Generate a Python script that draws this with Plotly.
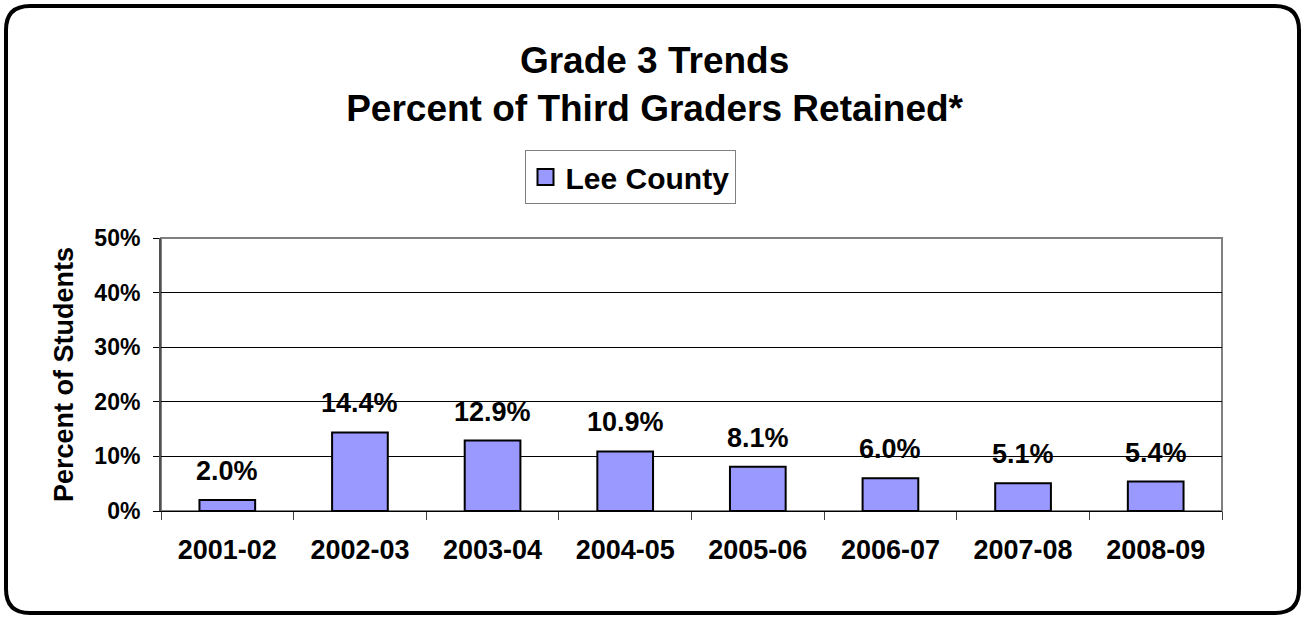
import plotly.graph_objects as go

# ---- data ----
school_years = ["2001-02", "2002-03", "2003-04", "2004-05", "2005-06", "2006-07", "2007-08", "2008-09"]
lee_county_retained = [0.020, 0.144, 0.129, 0.109, 0.081, 0.060, 0.051, 0.054]
series_name = "Lee County"
y_tick_values = [0, 0.1, 0.2, 0.3, 0.4, 0.5]
y_tick_labels = ["0%", "10%", "20%", "30%", "40%", "50%"]

# ---- layout constants ----
W, H = 1304, 617
ML, MR, MT, MB = 161, 82, 238, 106
PW, PH = W - ML - MR, H - MT - MB
FONT = "Liberation Sans, Arial, sans-serif"
BAR_COLOR = "#9999FF"


def px_x(px):
    return (px - ML) / PW


def px_y(py):
    return (H - MB - py) / PH


def rounded_rect_path(x0, y0, x1, y1, r):
    pts = []
    pts.append(f"M{px_x(x0 + r)},{px_y(y0)}")
    pts.append(f"L{px_x(x1 - r)},{px_y(y0)}")
    pts.append(f"Q{px_x(x1)},{px_y(y0)} {px_x(x1)},{px_y(y0 + r)}")
    pts.append(f"L{px_x(x1)},{px_y(y1 - r)}")
    pts.append(f"Q{px_x(x1)},{px_y(y1)} {px_x(x1 - r)},{px_y(y1)}")
    pts.append(f"L{px_x(x0 + r)},{px_y(y1)}")
    pts.append(f"Q{px_x(x0)},{px_y(y1)} {px_x(x0)},{px_y(y1 - r)}")
    pts.append(f"L{px_x(x0)},{px_y(y0 + r)}")
    pts.append(f"Q{px_x(x0)},{px_y(y0)} {px_x(x0 + r)},{px_y(y0)}")
    pts.append("Z")
    return " ".join(pts)


fig = go.Figure()

fig.add_trace(go.Bar(
    x=school_years,
    y=lee_county_retained,
    name=series_name,
    marker=dict(color=BAR_COLOR, line=dict(color="black", width=2)),
    width=0.42,
    showlegend=False,
))

# legend entry (larger square symbol)
fig.add_trace(go.Scatter(
    x=[None], y=[None], mode="markers", name=series_name,
    marker=dict(symbol="square", size=16, color=BAR_COLOR, line=dict(color="black", width=2)),
    showlegend=True,
))

# data labels
for xv, yv in zip(school_years, lee_county_retained):
    fig.add_annotation(
        x=xv, y=yv, xref="x", yref="y",
        text=f"{yv * 100:.1f}%",
        showarrow=False, yanchor="middle", yshift=29,
        font=dict(family=FONT, size=27, color="black", weight="bold"),
    )

# plot-area border (gray)
fig.add_shape(type="rect", xref="paper", yref="paper", x0=0, y0=0, x1=1, y1=1,
              line=dict(color="#808080", width=2), layer="below")

# outer rounded frame
fig.add_shape(type="path", xref="paper", yref="paper",
              path=rounded_rect_path(6, 6, 1299, 613, 24),
              line=dict(color="black", width=4))

fig.update_layout(
    width=W, height=H,
    margin=dict(l=ML, r=MR, t=MT, b=MB, pad=0),
    paper_bgcolor="white", plot_bgcolor="white",
    font=dict(family=FONT, color="black"),
    title=dict(
        text="Grade 3 Trends<br>Percent of Third Graders Retained*",
        xref="container", x=0.502, xanchor="center",
        yref="container", y=1 - 73 / H, yanchor="top",
        font=dict(family=FONT, size=37, color="black", weight="bold"),
    ),
    legend=dict(
        orientation="h",
        x=px_x(630), xanchor="center",
        y=px_y(150), yanchor="top",
        bordercolor="#808080", borderwidth=1,
        bgcolor="white",
        font=dict(family=FONT, size=30, color="black", weight="bold"),
        itemsizing="trace",
    ),
    showlegend=True,
)

fig.update_xaxes(
    type="category",
    tickson="boundaries",
    ticks="outside", ticklen=8, tickcolor="#404040", tickwidth=1,
    showgrid=False, zeroline=False,
    showline=True, linecolor="black", linewidth=1,
    tickfont=dict(family=FONT, size=27, color="black", weight="bold"),
    ticklabelstandoff=15,
)

fig.update_yaxes(
    range=[0, 0.5],
    tickvals=y_tick_values, ticktext=y_tick_labels,
    ticks="outside", ticklen=6, tickcolor="black", tickwidth=1,
    showgrid=True, gridcolor="black", gridwidth=1,
    zeroline=False,
    showline=True, linecolor="#505050", linewidth=2,
    tickfont=dict(family=FONT, size=23, color="black", weight="bold"),
    ticklabelstandoff=8,
    title=dict(text="Percent of Students", standoff=13,
               font=dict(family=FONT, size=27, color="black", weight="bold")),
)

fig.write_html("out.html", config={"displayModeBar": False},
               post_script="document.body.style.margin='0px';")
